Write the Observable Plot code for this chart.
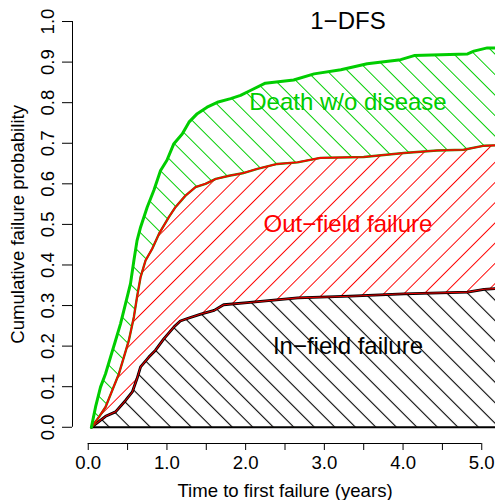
<!DOCTYPE html>
<html><head><meta charset="utf-8">
<script src="https://cdn.jsdelivr.net/npm/d3@7"></script>
<script src="https://cdn.jsdelivr.net/npm/@observablehq/plot@0.6"></script>
<style>body{margin:0;background:#fff}</style>
</head><body>
<svg width="0" height="0" style="position:absolute">
<defs>
<pattern id="hG" patternUnits="userSpaceOnUse" width="14.5" height="14.5" patternTransform="rotate(-45)">
<rect width="14.5" height="14.5" fill="white"/>
<line x1="7.25" y1="0" x2="7.25" y2="14.5" stroke="#00cd00" stroke-width="1"/>
</pattern>
<pattern id="hR" patternUnits="userSpaceOnUse" width="14.3" height="14.3" patternTransform="rotate(45)">
<rect width="14.3" height="14.3" fill="white"/>
<line x1="7.15" y1="0" x2="7.15" y2="14.3" stroke="#ff0000" stroke-width="1"/>
</pattern>
<pattern id="hK" patternUnits="userSpaceOnUse" width="14.5" height="14.5" patternTransform="rotate(-45)">
<rect width="14.5" height="14.5" fill="white"/>
<line x1="7.25" y1="0" x2="7.25" y2="14.5" stroke="#000" stroke-width="1.1"/>
</pattern>
</defs>
</svg>
<div id="chart"></div>
<script>
// Time (years) and cumulative probability for each stacked curve
const totalT = [0.04,0.093,0.156,0.22,0.283,0.347,0.41,0.474,0.537,0.58,0.62,0.665,0.75,0.834,0.919,1.0,1.088,1.194,1.28,1.385,1.51,1.64,1.81,1.935,2.06,2.25,2.61,2.87,3.21,3.545,3.97,4.14,4.48,4.82,4.9,5.07,5.2];
const totalV = [0,0.05,0.099,0.132,0.173,0.214,0.255,0.305,0.354,0.411,0.46,0.493,0.543,0.584,0.633,0.658,0.699,0.723,0.752,0.773,0.789,0.801,0.81,0.818,0.83,0.848,0.856,0.871,0.881,0.896,0.906,0.916,0.918,0.92,0.927,0.935,0.935];

const outT = [0.04,0.135,0.22,0.305,0.39,0.453,0.516,0.58,0.62,0.665,0.728,0.813,0.9,1.024,1.11,1.236,1.363,1.49,1.62,1.79,1.96,2.15,2.4,2.66,2.95,3.5,4.01,4.43,4.77,5.03,5.2];
const outV = [0,0.025,0.05,0.091,0.132,0.173,0.214,0.272,0.321,0.37,0.411,0.44,0.477,0.518,0.543,0.571,0.592,0.6,0.612,0.62,0.626,0.637,0.649,0.653,0.664,0.666,0.676,0.682,0.684,0.694,0.695];

const inT = [0.04,0.22,0.347,0.474,0.56,0.62,0.665,0.77,0.855,0.96,1.088,1.17,1.26,1.43,1.6,1.72,2.02,2.66,3.33,4.01,4.82,5.03,5.2];
const inV = [0,0.027,0.038,0.066,0.087,0.12,0.149,0.173,0.19,0.218,0.247,0.262,0.268,0.279,0.288,0.302,0.307,0.319,0.323,0.329,0.333,0.34,0.342];

const xTicks = [0,0.5,1,1.5,2,2.5,3,3.5,4,4.5,5];
const xLabels = [0,1,2,3,4,5];
const yTicks = [0,0.1,0.2,0.3,0.4,0.5,0.6,0.7,0.8,0.9,1.0];

const labelText = ["1\u2212DFS","Death w/o disease","Out\u2212field failure","In\u2212field failure"];
const labelX = [3.3,3.3,3.3,3.3];
const labelY = [1.0,0.8,0.5,0.2];
const labelColor = ["#000","#00cd00","#ff0000","#000"];

const zip = (T, V) => T.map((t, i) => ({t, v: V[i]}));
const total = zip(totalT, totalV);
const out = zip(outT, outV);
const inf = zip(inT, inV);
const labels = labelText.map((s, i) => ({s, x: labelX[i], y: labelY[i], c: labelColor[i]}));

const AX = 18.6;
const chart = Plot.plot({
  width: 495, height: 500,
  marginLeft: 72, marginRight: -2, marginTop: 4.8, marginBottom: 57,
  x: {domain: [-0.2, 5.2]},
  y: {domain: [-0.04, 1.04]},
  style: {fontFamily: "'Liberation Sans', Arial, sans-serif", background: "white", color: "#000", overflow: "hidden"},
  marks: [
    Plot.areaY(total, {x: "t", y1: 0, y2: "v", fill: "url(#hG)", clip: true}),
    Plot.areaY(out, {x: "t", y1: 0, y2: "v", fill: "url(#hR)", clip: true}),
    Plot.areaY(inf, {x: "t", y1: 0, y2: "v", fill: "url(#hK)", clip: true}),
    Plot.ruleY([0], {x1: 0.04, x2: 5.2, stroke: "#000", strokeWidth: 2, clip: true}),
    Plot.line(inf, {x: "t", y: "v", stroke: "#000", strokeWidth: 2.8, clip: true}),
    Plot.line(inf, {x: "t", y: "v", stroke: "#e00000", strokeWidth: 1.1, clip: true}),
    Plot.line(out, {x: "t", y: "v", stroke: "#3a8a00", strokeWidth: 2.4, clip: true}),
    Plot.line(out, {x: "t", y: "v", stroke: "#ff0000", strokeWidth: 1.6, clip: true}),
    Plot.line(total, {x: "t", y: "v", stroke: "#00cd00", strokeWidth: 3, clip: true}),
    // axes
    Plot.ruleX([-0.2], {y1: 0, y2: 1, stroke: "#000"}),
    Plot.axisY({ticks: yTicks, tickSize: 10, tickFormat: () => "", label: null, anchor: "left"}),
    Plot.text(yTicks, {x: -0.2, y: d => d, text: d => d.toFixed(1), rotate: -90, dx: -24, fontSize: AX, fill: "#000"}),
    Plot.ruleY([-0.04], {x1: 0, x2: 5, stroke: "#000"}),
    Plot.axisX({ticks: xTicks, tickSize: 7, tickFormat: () => "", label: null, anchor: "bottom"}),
    Plot.text(xLabels, {x: d => d, y: -0.04, dy: 20, text: d => d.toFixed(1), fontSize: AX, fill: "#000"}),
    Plot.text(["Time to first failure (years)"], {frameAnchor: "bottom", dy: 53, textAnchor: "middle", text: d => d, fontSize: AX, fill: "#000"}),
    Plot.text(["Cumulative failure probability"], {frameAnchor: "left", dx: -54, rotate: -90, textAnchor: "middle", text: d => d, fontSize: AX, fill: "#000"}),
    // annotations
    Plot.text(labels, {x: "x", y: "y", text: "s", fill: "c", fontSize: 24})
  ]
});
document.getElementById("chart").appendChild(chart);
</script>
</body></html>
